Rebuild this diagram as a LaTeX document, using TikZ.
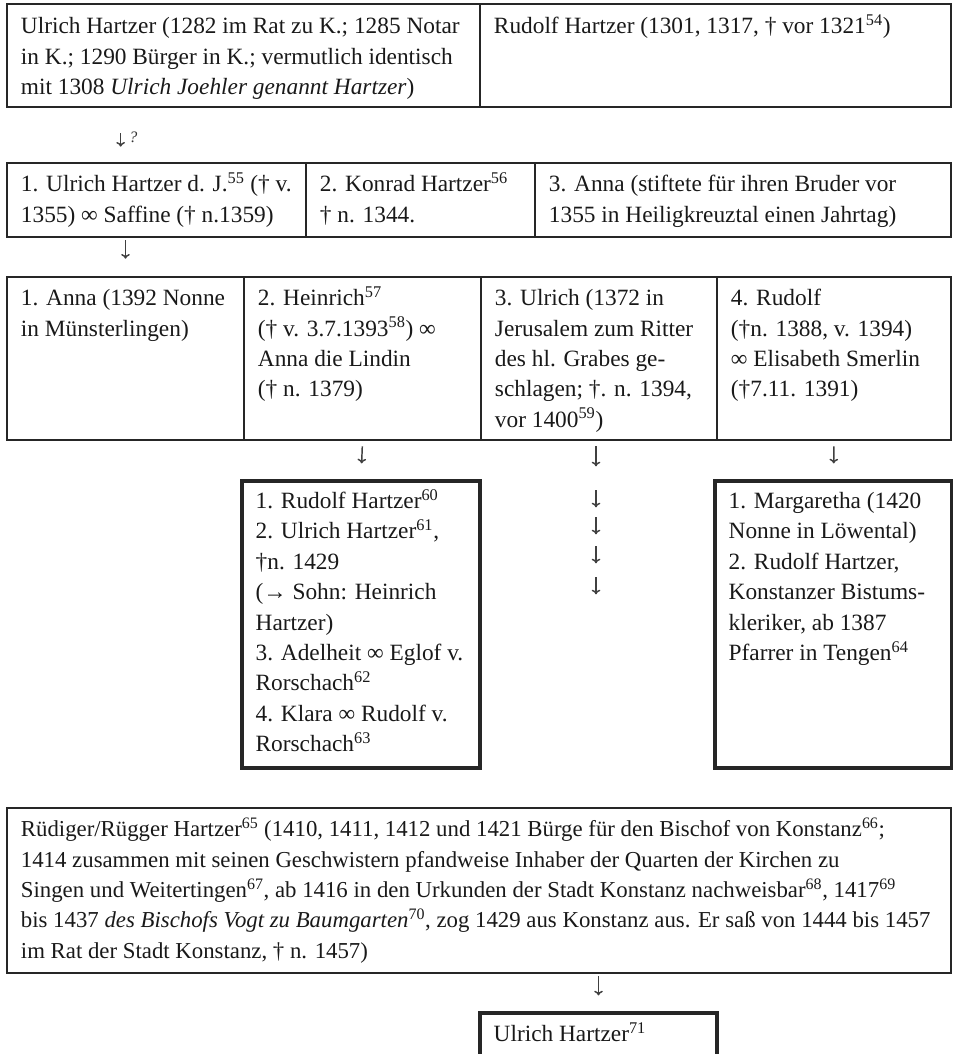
\documentclass[tikz,border=0pt]{standalone}
\usepackage{fontspec}
\setmainfont{Liberation Serif}
\usetikzlibrary{arrows.meta,calc,fit}
\newcommand\rows[1]{\begin{tabular}[t]{@{}l@{}}#1\end{tabular}}

\begin{document}
\begin{tikzpicture}[
  x=0.75pt, y=-0.75pt,
  >={To[length=3.5pt,width=6.5pt]},
  cell/.style={draw=black!85, line width=2pt, inner sep=0pt},
  kids/.style={cell, line width=2.4pt},
  txt/.style={anchor=base west, inner sep=0pt, text=black!90,
    font=\fontsize{17.5pt}{22.8pt}\selectfont},
  qmark/.style={inner sep=0pt, text=black!80, font=\fontsize{12pt}{14pt}\selectfont\itshape},
  arr/.style={->, line width=1.1pt, draw=black!75},
]
\useasboundingbox (0,0) rectangle (953,1054);
% row 1: the two brothers
\node[cell, fit={(7,4) (480,107)}] (r1a) {};
\node[cell, fit={(480,4) (951,107)}] (r1b) {};
\node[txt] (r1a-t) at ($(r1a.north west)+(15,31)$) {\rows{Ulrich Hartzer (1282 im Rat zu K.; 1285 Notar\\in K.; 1290 Bürger in K.; vermutlich identisch\\mit 1308 \textit{Ulrich Joehler genannt Hartzer})}};
\node[txt] (r1b-t) at ($(r1b.north west)+(15,31)$) {Rudolf Hartzer (1301, 1317, † vor 1321\textsuperscript{54})};
% row 2
\node[cell, fit={(7,163) (306,237)}] (r2a) {};
\node[cell, fit={(306,163) (535,237)}] (r2b) {};
\node[cell, fit={(535,163) (951,237)}] (r2c) {};
\node[txt] (r2a-t) at ($(r2a.north west)+(15,30)$) {\rows{1. Ulrich Hartzer d. J.\textsuperscript{55} († v.\\1355) ∞ Saffine († n.1359)}};
\node[txt] (r2b-t) at ($(r2b.north west)+(15,30)$) {\rows{2. Konrad Hartzer\textsuperscript{56}\\† n. 1344.}};
\node[txt] (r2c-t) at ($(r2c.north west)+(15,30)$) {\rows{3. Anna (stiftete für ihren Bruder vor\\1355 in Heiligkreuztal einen Jahrtag)}};
% row 3
\node[cell, fit={(7,277) (244,440)}] (r3a) {};
\node[cell, fit={(244,277) (481,440)}] (r3b) {};
\node[cell, fit={(481,277) (717,440)}] (r3c) {};
\node[cell, fit={(717,277) (951,440)}] (r3d) {};
\node[txt] (r3a-t) at ($(r3a.north west)+(15,30)$) {\rows{1. Anna (1392 Nonne\\in Münsterlingen)}};
\node[txt] (r3b-t) at ($(r3b.north west)+(15,30)$) {\rows{2. Heinrich\textsuperscript{57}\\(† v. 3.7.1393\textsuperscript{58}) ∞\\Anna die Lindin\\(† n. 1379)}};
\node[txt] (r3c-t) at ($(r3c.north west)+(15,30)$) {\rows{3. Ulrich (1372 in\\Jerusalem zum Ritter\\des hl. Grabes ge-\\schlagen; †. n. 1394,\\vor 1400\textsuperscript{59})}};
\node[txt] (r3d-t) at ($(r3d.north west)+(15,30)$) {\rows{4. Rudolf\\(†n. 1388, v. 1394)\\∞ Elisabeth Smerlin\\(†7.11. 1391)}};
% children of Heinrich and Rudolf
\node[kids, fit={(242,481) (480,768)}] (kidsH) {};
\node[kids, fit={(715,481) (952,768)}] (kidsR) {};
\node[txt] (kidsH-t) at ($(kidsH.north west)+(15,29)$) {\rows{1. Rudolf Hartzer\textsuperscript{60}\\2. Ulrich Hartzer\textsuperscript{61},\\†n. 1429\\(→ Sohn: Heinrich\\Hartzer)\\3. Adelheit ∞ Eglof v.\\Rorschach\textsuperscript{62}\\4. Klara ∞ Rudolf v.\\Rorschach\textsuperscript{63}}};
\node[txt] (kidsR-t) at ($(kidsR.north west)+(15,29)$) {\rows{1. Margaretha (1420\\Nonne in Löwental)\\2. Rudolf Hartzer,\\Konstanzer Bistums-\\kleriker, ab 1387\\Pfarrer in Tengen\textsuperscript{64}}};
% Ruediger and his son
\node[cell, fit={(7,808) (951,973)}] (rued) {};
\node[kids, fit={(480,1013) (717,1070)}] (ulr) {};
\node[txt, font=\fontsize{17.1pt}{22.8pt}\selectfont] (rued-t) at ($(rued.north west)+(15,30)$) {\rows{Rüdiger/Rügger Hartzer\textsuperscript{65} (1410, 1411, 1412 und 1421 Bürge für den Bischof von Konstanz\textsuperscript{66};\\1414 zusammen mit seinen Geschwistern pfandweise Inhaber der Quarten der Kirchen zu\\Singen und Weitertingen\textsuperscript{67}, ab 1416 in den Urkunden der Stadt Konstanz nachweisbar\textsuperscript{68}, 1417\textsuperscript{69}\\bis 1437 \textit{des Bischofs Vogt zu Baumgarten}\textsuperscript{70}, zog 1429 aus Konstanz aus. Er saß von 1444 bis 1457\\im Rat der Stadt Konstanz, † n. 1457)}};
\node[txt] (ulr-t) at ($(ulr.north west)+(15,30)$) {Ulrich Hartzer\textsuperscript{71}};
% arrows
\draw[arr, shorten <=18.75pt, shorten >=11.25pt] ($(r1a.south west)+(115,0)$) -- ($(r2a.north west)+(115,0)$)
  node[qmark, pos=0.55, right=6pt] (q) {?};
\draw[arr, shorten <=1.5pt, shorten >=12.75pt] (r2a.south -| r3a.north) -- (r3a.north);
\draw[arr, shorten <=3.75pt, shorten >=12pt] (r3b.south) -- (kidsH.north);
\draw[arr, shorten <=3.75pt, shorten >=12pt] (r3d.south) -- (kidsR.north);
\draw[arr] ($(r3c.south)+(-3,5)$) -- ++(0,20);
\foreach \dy in {49,76,105,136}{
  \draw[arr] ($(r3c.south)+(-3,\dy)$) -- ++(0,17);
}
\draw[arr, shorten <=1.5pt, shorten >=12pt] (rued.south -| ulr.north) -- (ulr.north);
\end{tikzpicture}
\end{document}
